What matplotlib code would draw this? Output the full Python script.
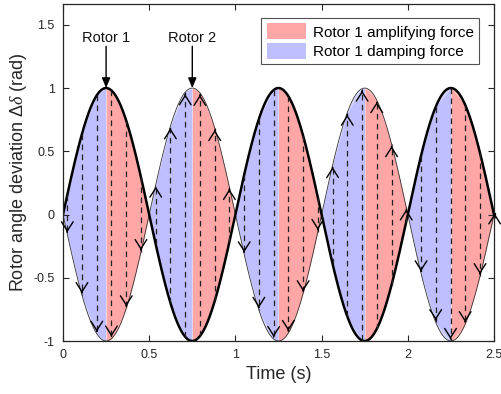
import numpy as np
import matplotlib
matplotlib.use("Agg")
import matplotlib.pyplot as plt
from matplotlib.patches import Patch

plt.rcParams['font.family'] = ['Liberation Sans', 'DejaVu Sans']
plt.rcParams['mathtext.fontset'] = 'custom'
plt.rcParams['mathtext.it'] = 'Liberation Serif:italic'
plt.rcParams['mathtext.rm'] = 'Liberation Sans'

# Oscillation: 1 Hz, amplitude 1 rad, rotors in antiphase
freq_hz = 1.0
amp_rad = 1.0
t_end = 2.5
time_s = np.linspace(0, t_end, 1001)
rotor1 = amp_rad * np.sin(2 * np.pi * freq_hz * time_s)
rotor2 = -rotor1

# times of the dashed arrows
arrow_t = [0.025, 0.110, 0.196, 0.281, 0.367, 0.452, 0.538, 0.623, 0.709, 0.794,
           0.880, 0.965, 1.051, 1.136, 1.222, 1.307, 1.393, 1.478, 1.564, 1.649,
           1.735, 1.820, 1.906, 1.991, 2.077, 2.162, 2.248, 2.333, 2.419, 2.504]

# quarter-period boundaries: damping (blue) then amplifying (red)
quarter_edges = [0, 0.25, 0.5, 0.75, 1.0, 1.25, 1.5, 1.75, 2.0, 2.25, 2.5]

red = '#ffa6a6'
red_light = '#ffc4c4'
blue = '#bfbfff'
blue_light = '#d6d6ff'


def r1(t):
    return amp_rad * np.sin(2 * np.pi * freq_hz * np.asarray(t))


fig = plt.figure(figsize=(5.02, 3.94), dpi=100)
ax = fig.add_axes([0.1255, 0.1345, 0.8585, 0.8555])

for i in range(len(quarter_edges) - 1):
    a, b = quarter_edges[i], quarter_edges[i + 1]
    dark, light = (blue, blue_light) if i % 2 == 0 else (red, red_light)
    m = (time_s >= a) & (time_s <= b)
    ax.fill_between(time_s[m], rotor1[m], rotor2[m], color=light, lw=0)
    # coarse polygon through arrow times -> lighter slivers near the edges
    tc = [a] + [t for t in arrow_t if a < t < b] + [b]
    yc = r1(tc)
    ax.fill_between(tc, yc, -yc, color=dark, lw=0)
    ax.plot([b, b], [-abs(r1(b)), abs(r1(b))], color='white', lw=0.4, alpha=0.7)

ax.plot(time_s, rotor2, color='#333333', lw=0.6)
ax.plot(time_s, rotor1, color='black', lw=1.8)

for t in arrow_t:
    y1, y2 = float(r1(t)), float(-r1(t))
    ax.plot([t, t], [y1, y2], color='#222222', lw=0.9, dashes=(4.5, 3.5), clip_on=False)
    d = np.sign(y2 - y1) if y2 != y1 else -1
    ax.annotate('', xy=(t, y2), xytext=(t, y2 - d * 0.02),
                arrowprops=dict(arrowstyle='->,head_length=0.55,head_width=0.35',
                                mutation_scale=12, color='black', lw=1.0,
                                shrinkA=0, shrinkB=1.5),
                annotation_clip=False)

# rotor labels
for name, tp in [('Rotor 1', 0.25), ('Rotor 2', 0.75)]:
    ax.annotate('', xy=(tp, 1.0), xytext=(tp, 1.33),
                arrowprops=dict(arrowstyle='-|>,head_length=0.6,head_width=0.25',
                                color='black', lw=1.0, shrinkA=0, shrinkB=0))
    ax.text(tp, 1.395, name, ha='center', va='center', fontsize=10.5, color='#111111')

ax.set_xlim(0, 2.5)
ax.set_ylim(-1, 1.665)
ax.set_xticks([0, 0.5, 1, 1.5, 2, 2.5])
ax.set_xticklabels(['0', '0.5', '1', '1.5', '2', '2.5'])
ax.set_yticks([-1, -0.5, 0, 0.5, 1, 1.5])
ax.set_yticklabels(['-1', '-0.5', '0', '0.5', '1', '1.5'])
ax.tick_params(direction='in', top=True, right=True, length=4, width=0.8,
               labelsize=9, colors='#262626', labelcolor='#262626', pad=6)
for s in ax.spines.values():
    s.set_linewidth(0.9)
    s.set_color('#262626')

ax.set_xlabel('Time (s)', fontsize=13, color='#262626', labelpad=3)
ax.set_ylabel(r'Rotor angle deviation $\Delta\delta$ (rad)', fontsize=13,
              color='#262626', labelpad=3)

handles = [Patch(facecolor=red, edgecolor='none', label='Rotor 1 amplifying force'),
           Patch(facecolor=blue, edgecolor='none', label='Rotor 1 damping force')]
leg = ax.legend(handles=handles, loc='upper right', bbox_to_anchor=(0.977, 0.972),
                fontsize=11, frameon=True, fancybox=False, handlelength=2.6,
                handleheight=1.25, handletextpad=0.45, borderpad=0.35,
                labelspacing=0.2, borderaxespad=0.3)
leg.get_frame().set_edgecolor('#262626')
leg.get_frame().set_linewidth(0.8)

fig.savefig('out.png', dpi=100)
